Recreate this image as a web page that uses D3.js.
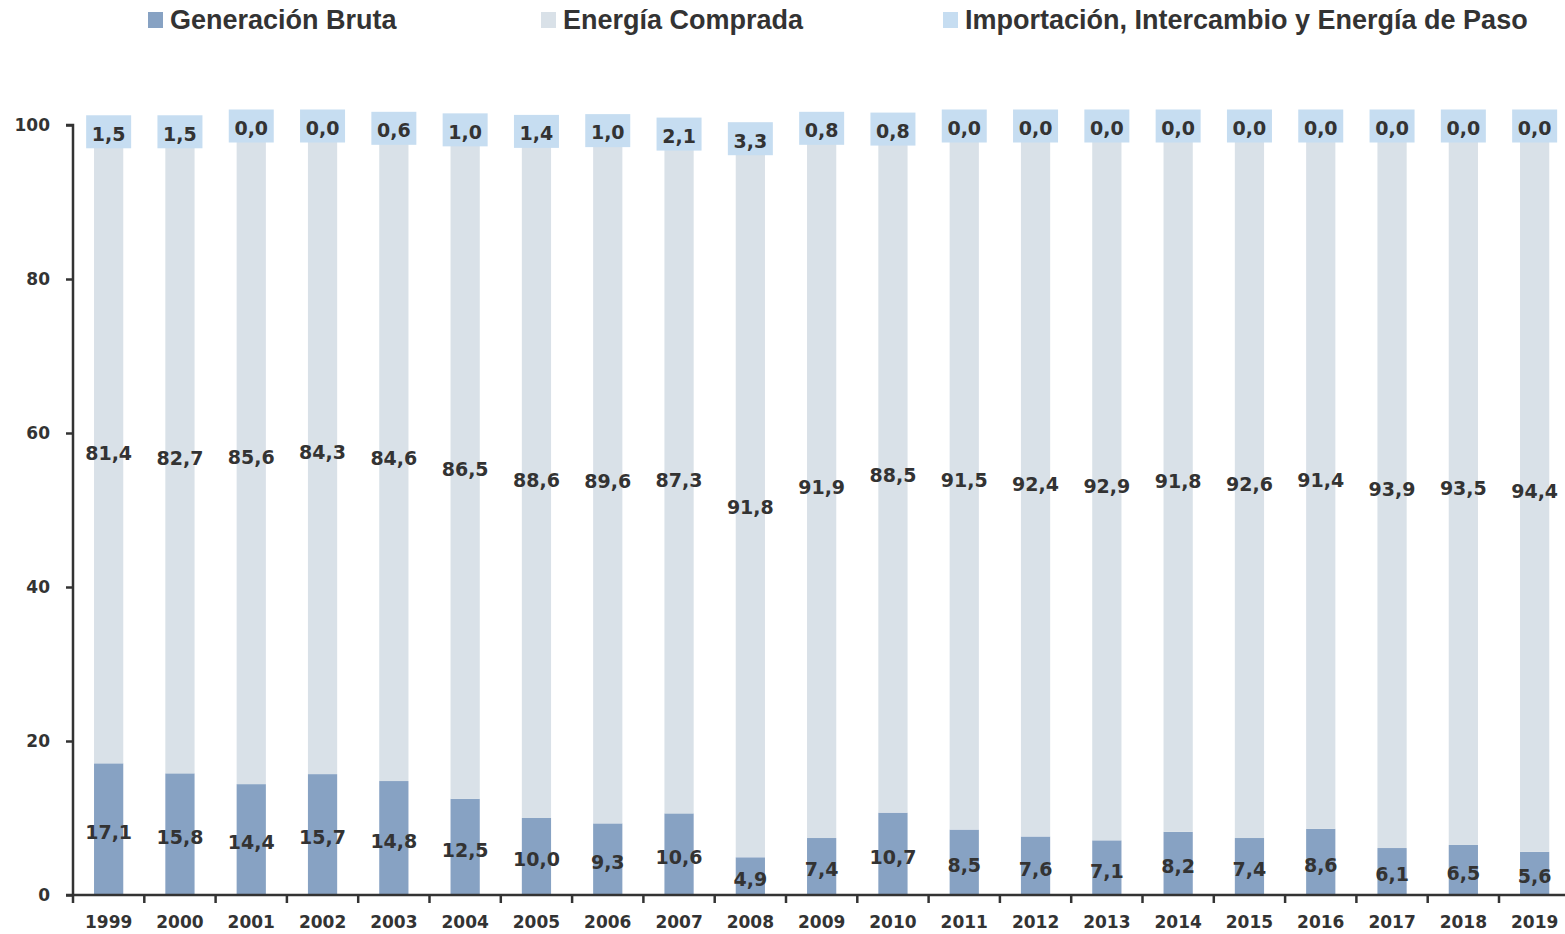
<!DOCTYPE html>
<html>
<head>
<meta charset="utf-8">
<script src="https://cdn.jsdelivr.net/npm/d3@7"></script>
<style>
  body { margin: 0; background: #fff; }
  svg { display: block; }
</style>
</head>
<body>
<svg id="chart" width="1565" height="934"></svg>
<script>
const years = ["1999", "2000", "2001", "2002", "2003", "2004", "2005", "2006", "2007", "2008", "2009",
  "2010", "2011", "2012", "2013", "2014", "2015", "2016", "2017", "2018", "2019"];
const generacion = [17.1, 15.8, 14.4, 15.7, 14.8, 12.5, 10.0, 9.3, 10.6, 4.9, 7.4,
  10.7, 8.5, 7.6, 7.1, 8.2, 7.4, 8.6, 6.1, 6.5, 5.6];
const comprada = [81.4, 82.7, 85.6, 84.3, 84.6, 86.5, 88.6, 89.6, 87.3, 91.8, 91.9,
  88.5, 91.5, 92.4, 92.9, 91.8, 92.6, 91.4, 93.9, 93.5, 94.4];
const importacion = [1.5, 1.5, 0.0, 0.0, 0.6, 1.0, 1.4, 1.0, 2.1, 3.3, 0.8,
  0.8, 0.0, 0.0, 0.0, 0.0, 0.0, 0.0, 0.0, 0.0, 0.0];
const seriesNames = ["Generación Bruta", "Energía Comprada", "Importación, Intercambio y Energía de Paso"];
const yTicks = [0, 20, 40, 60, 80, 100];

const colors = ["#87a2c3", "#d9e1e8", "#c6ddf1"];
const textColor = "#333333";
const labelFont = "'DejaVu Sans', Verdana, sans-serif";

const svg = d3.select("#chart");
const margin = { left: 73, top: 125, bottom: 895 };
const step = 71.3;

const rows = years.map((y, i) => ({
  year: y, gen: generacion[i], comp: comprada[i], imp: importacion[i]
}));
const stack = d3.stack().keys(["gen", "comp", "imp"]);
const layers = stack(rows);

const x = d3.scaleBand().domain(years)
  .range([margin.left, margin.left + step * years.length])
  .paddingInner(0.59).paddingOuter(0.295);
const xOuter = d3.scaleBand().domain(years)
  .range([margin.left, margin.left + step * years.length]);
const y = d3.scaleLinear().domain([0, 100]).range([margin.bottom, margin.top]);

// bars
const g = svg.append("g");
layers.forEach((layer, li) => {
  g.append("g")
    .selectAll("rect")
    .data(layer)
    .join("rect")
    .attr("x", (d) => x(d.data.year))
    .attr("width", x.bandwidth())
    .attr("y", (d) => y(d[1]))
    .attr("height", (d) => y(d[0]) - y(d[1]))
    .attr("fill", colors[li]);
});

// axes
const yAxis = svg.append("g")
  .attr("transform", `translate(${margin.left},0)`)
  .call(d3.axisLeft(y).tickValues(yTicks).tickSize(7).tickPadding(16).tickFormat(d3.format("d")));
const xAxis = svg.append("g")
  .attr("transform", `translate(0,${margin.bottom})`)
  .call(d3.axisBottom(xOuter).tickSize(0).tickPadding(21));

[yAxis, xAxis].forEach((ax) => {
  ax.select(".domain").attr("stroke", textColor).attr("stroke-width", 2.5);
  ax.selectAll(".tick line").attr("stroke", textColor).attr("stroke-width", 2.5);
  ax.selectAll("text")
    .attr("fill", textColor)
    .style("font-family", labelFont)
    .style("font-weight", "bold")
    .style("font-size", "17px");
});
yAxis.select(".domain").attr("d", `M-7,${margin.top}H0V${margin.bottom}`);
xAxis.select(".domain").attr("d", `M-7,0H${xOuter.range()[1]}`).attr("transform", `translate(${margin.left},0)`);
// band boundary ticks along the x axis
xAxis.append("g")
  .selectAll("line")
  .data(years)
  .join("line")
  .attr("x1", (d) => xOuter(d))
  .attr("x2", (d) => xOuter(d))
  .attr("y1", 0)
  .attr("y2", 8)
  .attr("stroke", textColor)
  .attr("stroke-width", 2.5);
xAxis.selectAll(".tick text").attr("dy", "0.71em");

// value labels
const fmt = (v) => v.toFixed(1).replace(".", ",");
const lbl = svg.append("g")
  .style("font-family", labelFont)
  .style("font-weight", "bold")
  .style("font-size", "19px")
  .attr("fill", textColor)
  .attr("text-anchor", "middle");

layers.forEach((layer, li) => {
  layer.forEach((d) => {
    const cx = x(d.data.year) + x.bandwidth() / 2;
    const cy = y((d[0] + d[1]) / 2);
    const val = d[1] - d[0];
    if (li === 2) {
      const bw = 45, bh = 33;
      lbl.append("rect")
        .attr("x", cx - bw / 2)
        .attr("y", cy + 1 - bh / 2)
        .attr("width", bw)
        .attr("height", bh)
        .attr("fill", colors[2]);
    }
    lbl.append("text")
      .attr("x", cx)
      .attr("y", cy + 3)
      .attr("dy", "0.36em")
      .text(fmt(val));
  });
});

// legend
const legendX = [148, 541, 943];
const legend = svg.append("g")
  .style("font-family", "'Liberation Sans', Arial, sans-serif")
  .style("font-weight", "bold")
  .style("font-size", "27px");
seriesNames.forEach((name, i) => {
  legend.append("rect")
    .attr("x", legendX[i])
    .attr("y", 12)
    .attr("width", 15)
    .attr("height", 16)
    .attr("fill", colors[i]);
  legend.append("text")
    .attr("x", legendX[i] + 22)
    .attr("y", 29)
    .attr("fill", textColor)
    .text(name);
});
</script>
</body>
</html>
